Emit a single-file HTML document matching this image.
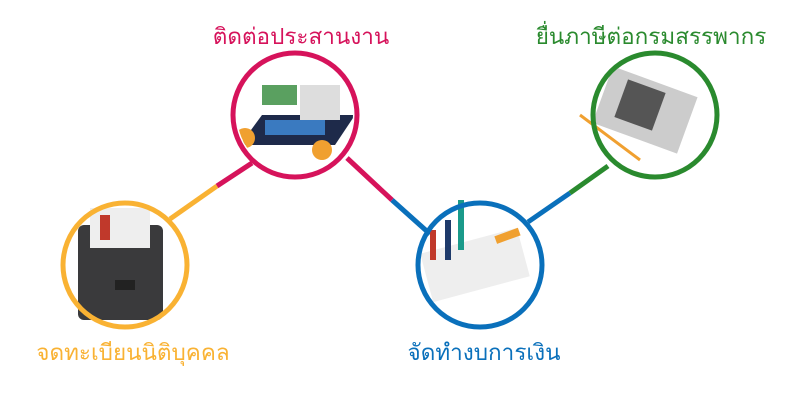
<!DOCTYPE html>
<html><head><meta charset="utf-8"><style>
body{margin:0;background:#fff;width:800px;height:400px;overflow:hidden}
.t{font-family:"Liberation Sans","Noto Sans CJK SC",sans-serif;font-size:22.5px}
</style></head><body>
<svg width="800" height="400" xmlns="http://www.w3.org/2000/svg">
<defs>
<clipPath id="cp"><circle cx="295" cy="115" r="58"/></clipPath>
</defs>
<g stroke-width="5" fill="none">
<line x1="170" y1="219" x2="217" y2="186" stroke="#f9b233"/>
<line x1="217" y1="186" x2="252" y2="163" stroke="#d6135b"/>
<line x1="347" y1="158" x2="392" y2="200" stroke="#d6135b"/>
<line x1="392" y1="200" x2="430" y2="234" stroke="#0a70bb"/>
<line x1="528" y1="222" x2="570" y2="193" stroke="#0a70bb"/>
<line x1="570" y1="193" x2="608" y2="166" stroke="#2a8a2e"/>
</g>
<g>
<rect x="78" y="225" width="85" height="95" rx="6" fill="#3a3a3c"/>
<rect x="90" y="208" width="60" height="40" fill="#eee"/>
<rect x="100" y="215" width="10" height="25" fill="#c0392b"/>
<rect x="115" y="280" width="20" height="10" fill="#222"/>
</g>
<g clip-path="url(#cp)">
<polygon points="262,115 355,115 335,145 240,145" fill="#1e2a4a"/>
<rect x="265" y="120" width="60" height="15" fill="#3a7ac0"/>
<circle cx="245" cy="138" r="10" fill="#f0a030"/><circle cx="322" cy="150" r="10" fill="#f0a030"/>
<rect x="300" y="85" width="40" height="35" fill="#ddd"/>
<rect x="262" y="85" width="35" height="20" fill="#5aa060"/>
</g>
<g>
<rect x="425" y="240" width="100" height="50" fill="#eee" transform="rotate(-15 475 265)"/>
<rect x="430" y="230" width="6" height="30" fill="#c0392b"/><rect x="445" y="220" width="6" height="40" fill="#1e3a6a"/><rect x="458" y="200" width="6" height="50" fill="#1a9a8a"/>
<rect x="495" y="232" width="25" height="8" fill="#f0a030" transform="rotate(-20 507 236)"/>
<rect x="600" y="80" width="90" height="60" fill="#ccc" transform="rotate(20 645 110)"/>
<rect x="620" y="85" width="40" height="40" fill="#555" transform="rotate(20 640 105)"/>
<line x1="580" y1="115" x2="640" y2="160" stroke="#f0a030" stroke-width="3"/>
</g>
<g stroke-width="5" fill="none">
<circle cx="125" cy="265" r="62" stroke="#f9b233"/>
<circle cx="295" cy="115" r="62" stroke="#d6135b"/>
<circle cx="480" cy="265" r="62" stroke="#0a70bb"/>
<circle cx="655" cy="115" r="62" stroke="#2a8a2e"/>
</g>
<text class="t" x="301" y="44" text-anchor="middle" fill="#d6135b">ติดต่อประสานงาน</text>
<text class="t" x="651" y="44" text-anchor="middle" fill="#2a8a2e">ยื่นภาษีต่อกรมสรรพากร</text>
<text class="t" x="133" y="360" text-anchor="middle" fill="#f9b233">จดทะเบียนนิติบุคคล</text>
<text class="t" x="484" y="360" text-anchor="middle" fill="#0a70bb">จัดทำงบการเงิน</text>
</svg>
</body></html>
